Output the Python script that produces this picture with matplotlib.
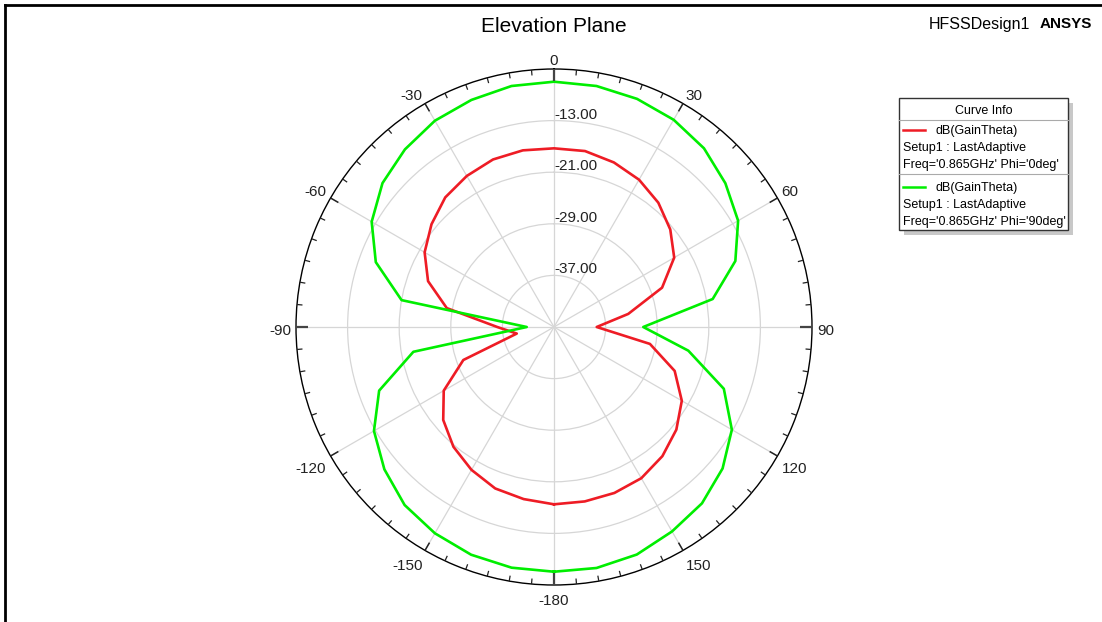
import numpy as np
import matplotlib
matplotlib.use('Agg')
import matplotlib.pyplot as plt
from matplotlib.patches import Rectangle
from matplotlib.lines import Line2D

plt.rcParams['font.family'] = ['Liberation Sans', 'DejaVu Sans']

# angles in degrees (theta), 10 deg steps
theta_deg = list(range(-180, 181, 10))

# dB(GainTheta), Phi = 0deg
gain_phi0 = [-17.51, -17.91, -18.36, -19.42, -20.75, -22.58, -25.26, -30.04, -39.14,
             -36.20, -28.12, -24.22, -21.84, -20.21, -18.77, -17.96, -17.36, -17.19,
             -17.30, -17.30, -17.85, -18.63, -19.84, -21.47, -23.48, -27.17, -33.31,
             -38.38, -29.90, -25.09, -22.12, -20.24, -18.86, -17.93, -17.62, -17.54,
             -17.51]

# dB(GainTheta), Phi = 90deg
gain_phi90 = [-7.06, -7.11, -7.43, -8.07, -8.97, -10.67, -12.77, -16.15, -22.86,
              -40.77, -21.00, -15.60, -12.36, -10.29, -9.05, -8.07, -7.54, -7.06,
              -6.97, -7.06, -7.36, -7.90, -8.83, -10.32, -12.04, -15.08, -20.02,
              -31.16, -23.85, -16.98, -13.16, -10.88, -9.31, -8.40, -7.46, -7.06,
              -7.06]

r_rings = [-37, -29, -21, -13]
theta_labels = [0, 30, 60, 90, 120, 150, 180, -150, -120, -90, -60, -30]

W, H = 1102, 622
fig = plt.figure(figsize=(W / 100, H / 100), dpi=100)


def fx(x):
    return x / W


def fy(y):
    return 1 - y / H


# polar axes: centre (554, 327), radius 258 px
cx, cy, R = 554, 327, 258
ax = fig.add_axes([fx(cx - R), fy(cy + R), 2 * R / W, 2 * R / H], projection='polar')
ax.set_theta_zero_location('N')
ax.set_theta_direction(-1)
rmin, rmax = -45, -5
ax.set_ylim(rmin, rmax)
px_db = (rmax - rmin) / R  # dB per pixel

th = np.deg2rad(theta_deg)
ax.plot(th, gain_phi0, color='#ee1c25', lw=1.9, zorder=3)
ax.plot(th, gain_phi90, color='#00ee00', lw=1.9, zorder=3)

ax.set_yticks(r_rings)
ax.set_yticklabels([])
ax.set_xticks(np.deg2rad(np.arange(0, 360, 30)))
ax.set_xticklabels([])
ax.grid(True, color='#d6d6d6', lw=0.9)
ax.spines['polar'].set_color('black')
ax.spines['polar'].set_linewidth(1.0)

# tick marks on the outer circle, pointing inward
for d in range(0, 360, 5):
    a = np.deg2rad(d)
    if d % 90 == 0:
        ln, lw, col = 12, 1.6, '#444444'
    elif d % 30 == 0:
        ln, lw, col = 9, 1.1, '#222222'
    else:
        ln, lw, col = 5.5, 0.9, '#222222'
    ax.plot([a, a], [rmax, rmax - ln * px_db], color=col, lw=lw, zorder=4,
            clip_on=False, solid_capstyle='butt')

# radial labels
for v in r_rings:
    ax.annotate(f'{v:.2f}', xy=(0, v), xytext=(0.5, 1.5), textcoords='offset points',
                ha='left', va='baseline', fontsize=11, color='#222222')

# angle labels
for d in theta_labels:
    a = np.deg2rad(d)
    s, c = np.sin(a), np.cos(a)
    ha = 'left' if s > 0.1 else ('right' if s < -0.1 else 'center')
    va = 'bottom' if c > 0.1 else ('top' if c < -0.1 else 'center')
    lab = '-180' if d == 180 else str(d)
    ax.annotate(lab, xy=(a, rmax), xytext=(3.5 * s, 3.5 * c - 2.8), textcoords='offset points',
                ha=ha, va=va, fontsize=11, color='#222222', annotation_clip=False)

# titles
fig.text(fx(554), fy(27), 'Elevation Plane', ha='center', va='center', fontsize=15)
fig.text(fx(1030), fy(25), 'HFSSDesign1', ha='right', va='center', fontsize=11.5)
fig.text(fx(1040), fy(24), 'ANSYS', ha='left', va='center', fontsize=11, fontweight='bold')

# outer frame (left and top edges)
fig.add_artist(Line2D([fx(5), fx(5)], [fy(5), 0], color='black', lw=2, transform=fig.transFigure))
fig.add_artist(Line2D([fx(5), 1], [fy(5), fy(5)], color='black', lw=2, transform=fig.transFigure))

# legend box (Curve Info)
lx0, lx1, ly0, ly1 = 899, 1068, 98, 230
fig.add_artist(Rectangle((fx(lx0 + 5), fy(ly1 + 5)), (lx1 - lx0) / W, (ly1 - ly0) / H,
                         transform=fig.transFigure, facecolor='#c8c8c8', edgecolor='none', zorder=5))
fig.add_artist(Rectangle((fx(lx0), fy(ly1)), (lx1 - lx0) / W, (ly1 - ly0) / H,
                         transform=fig.transFigure, facecolor='white', edgecolor='#333333', lw=1, zorder=6))
fig.text(fx((lx0 + lx1) / 2), fy(111), 'Curve Info', ha='center', va='center', fontsize=9, zorder=7)
for ys in (120, 174):
    fig.add_artist(Line2D([fx(lx0), fx(lx1)], [fy(ys), fy(ys)], color='#aaaaaa', lw=0.8,
                          transform=fig.transFigure, zorder=7))

entries = [('#ee1c25', "Freq='0.865GHz' Phi='0deg'", 131),
           ('#00ee00', "Freq='0.865GHz' Phi='90deg'", 188)]
for col, freq, y0 in entries:
    fig.add_artist(Line2D([fx(903), fx(925)], [fy(y0 - 1), fy(y0 - 1)], color=col, lw=1.8,
                          transform=fig.transFigure, zorder=7))
    fig.text(fx(936), fy(y0), 'dB(GainTheta)', ha='left', va='center', fontsize=9, zorder=7)
    fig.text(fx(903), fy(y0 + 17), 'Setup1 : LastAdaptive', ha='left', va='center', fontsize=9, zorder=7)
    fig.text(fx(903), fy(y0 + 34), freq, ha='left', va='center', fontsize=9, zorder=7)

fig.savefig('out.png', dpi=100)
